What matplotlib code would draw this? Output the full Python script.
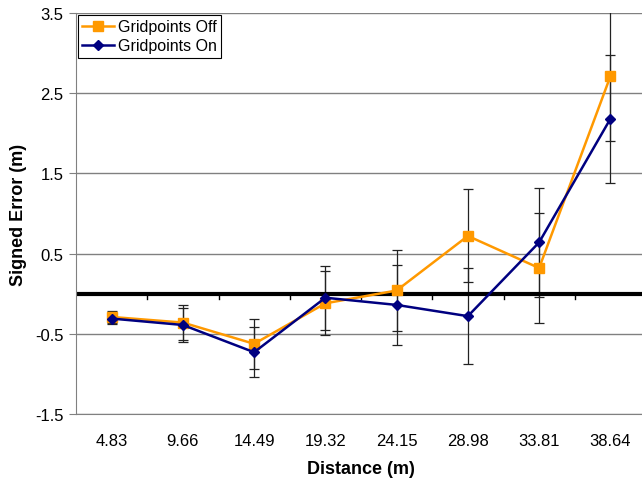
import matplotlib
matplotlib.use("Agg")
import matplotlib.pyplot as plt
import numpy as np

categories = ["4.83", "9.66", "14.49", "19.32", "24.15", "28.98", "33.81", "38.64"]
off_values = [-0.29, -0.36, -0.625, -0.12, 0.04, 0.72, 0.32, 2.71]
off_errors = [0.07, 0.22, 0.31, 0.40, 0.50, 0.58, 0.69, 0.81]
on_values = [-0.31, -0.39, -0.73, -0.05, -0.14, -0.28, 0.64, 2.18]
on_errors = [0.07, 0.21, 0.31, 0.40, 0.50, 0.60, 0.68, 0.80]
y_ticks = [-1.5, -0.5, 0.5, 1.5, 2.5, 3.5]

plt.rcParams['font.family'] = ['Liberation Sans', 'DejaVu Sans']

W, H = 642, 485
fig = plt.figure(figsize=(W / 100, H / 100), dpi=100)
left, right, top, bottom = 76, 646, 14, 415
ax = fig.add_axes([left / W, 1 - bottom / H, (right - left) / W, (bottom - top) / H])

x = np.arange(len(categories))
err_kw = dict(fmt='none', ecolor='#222222', elinewidth=0.9, capsize=3.5, capthick=0.9, zorder=2)
ax.errorbar(x, off_values, yerr=off_errors, **err_kw)
ax.errorbar(x, on_values, yerr=on_errors, **err_kw)

ax.plot(x, off_values, color='#FF9900', lw=1.8, marker='s', markersize=7,
        markerfacecolor='#FF9900', markeredgecolor='#FF9900', label='Gridpoints Off', zorder=3)
ax.plot(x, on_values, color='#000080', lw=1.8, marker='D', markersize=5.5,
        markerfacecolor='#000080', markeredgecolor='#000080', label='Gridpoints On', zorder=4)

ax.set_xlim(-0.5, len(categories) - 0.5)
ax.set_ylim(-1.5, 3.5)
ax.set_yticks(y_ticks)
ax.set_yticklabels([f"{v:g}" for v in y_ticks], fontsize=12)
ax.yaxis.grid(True, color='#808080', lw=1.0)
ax.set_axisbelow(True)

# zero line with category-boundary ticks
ax.axhline(0, color='black', lw=3, zorder=2.5)
for b in np.arange(0.5, len(categories) - 0.5, 1.0):
    ax.plot([b, b], [0, -0.07], color='black', lw=1.0, zorder=2.5)

ax.set_xticks(x)
ax.set_xticklabels(categories, fontsize=12)
ax.tick_params(axis='x', length=0, pad=14)
ax.tick_params(axis='y', length=5, color='#808080', pad=4)

for s in ['top', 'right']:
    ax.spines[s].set_visible(False)
ax.spines['left'].set_color('#808080')
ax.spines['bottom'].set_color('#808080')

ax.set_xlabel('Distance (m)', fontsize=13, fontweight='bold', labelpad=8)
ax.set_ylabel('Signed Error (m)', fontsize=13, fontweight='bold', labelpad=6)

leg = ax.legend(loc='upper left', bbox_to_anchor=(0.0, 1.0), fontsize=11.5, frameon=True,
                fancybox=False, edgecolor='black', framealpha=1, borderaxespad=0.1,
                handlelength=2.0, borderpad=0.3, labelspacing=0.25, handletextpad=0.2)
leg.get_frame().set_linewidth(0.8)

fig.savefig('out.png', dpi=100)
